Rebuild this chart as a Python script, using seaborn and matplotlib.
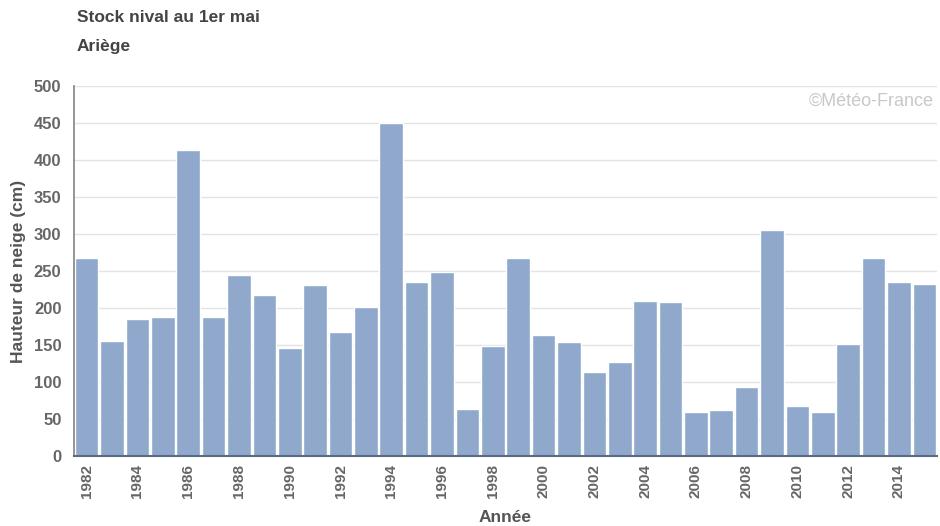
"""Stock nival au 1er mai - Ariège."""

import matplotlib

matplotlib.use("Agg")

import matplotlib.pyplot as plt
import pandas as pd
import seaborn as sns

years = list(range(1982, 2016))
snow_depth = [
    268, 156, 185, 188, 413, 188, 244, 217, 146, 231,
    167, 202, 450, 235, 248, 64, 149, 268, 164, 154,
    114, 127, 210, 208, 60, 62, 93, 306, 68, 60,
    152, 268, 235, 233,
]
y_ticks = [0, 50, 100, 150, 200, 250, 300, 350, 400, 450, 500]

BAR_COLOR = "#8fa8cc"
TEXT_COLOR = "#555555"

dataframe = pd.DataFrame({"year": [str(y) for y in years], "depth": snow_depth})

sns.set_theme(style="white")
plt.rcParams["font.family"] = ["Liberation Sans", "DejaVu Sans"]

fig = plt.figure(figsize=(9.4, 5.26), dpi=100)
axis = fig.add_axes([74 / 940, 1 - 456 / 526, 863 / 940, 370 / 526])

sns.barplot(
    data=dataframe,
    x="year",
    y="depth",
    color=BAR_COLOR,
    saturation=1,
    width=0.93,
    ax=axis,
    zorder=2,
)

axis.set_xlim(-0.5, len(years) - 0.5)
axis.set_ylim(0, 500)
axis.set_yticks(y_ticks)
axis.set_yticklabels([str(t) for t in y_ticks], fontsize=12, fontweight="bold", color="#666666")
axis.grid(axis="y", color="#e3e3e3", linewidth=1, zorder=0)
axis.set_axisbelow(True)

tick_pos = list(range(0, len(years), 2))
axis.set_xticks(tick_pos)
axis.set_xticklabels(
    [str(years[i]) for i in tick_pos],
    rotation=90,
    fontsize=11,
    fontweight="bold",
    color="#666666",
)
axis.tick_params(axis="y", length=0, pad=9)
axis.tick_params(axis="x", length=0, pad=6)

for side in ["top", "right"]:
    axis.spines[side].set_visible(False)
axis.spines["left"].set_color("#888888")
axis.spines["bottom"].set_color("#5a6a80")
axis.spines["bottom"].set_linewidth(1.5)

axis.set_xlabel("Année", fontsize=12.5, fontweight="bold", color=TEXT_COLOR)
axis.set_ylabel("Hauteur de neige (cm)", fontsize=12.5, fontweight="bold", color=TEXT_COLOR)
axis.xaxis.set_label_coords(505 / 863 - 74 / 863, -(518 - 456) / 370)
axis.xaxis.label.set_va("center")
axis.yaxis.set_label_coords(-(74 - 18) / 863, 0.5)
axis.yaxis.label.set_va("center")

fig.text(77 / 940, 1 - 18 / 526, "Stock nival au 1er mai", fontsize=12.5, fontweight="bold",
         color="#444444", va="center")
fig.text(77 / 940, 1 - 46 / 526, "Ariège", fontsize=12.5, fontweight="bold",
         color="#444444", va="center")
axis.text(0.9965, 1 - (101 - 86) / 370, "\u00a9Météo-France", transform=axis.transAxes,
          ha="right", va="center", fontsize=13, color="#c8c8c8")

fig.savefig("out.png", dpi=100)
plt.close(fig)
